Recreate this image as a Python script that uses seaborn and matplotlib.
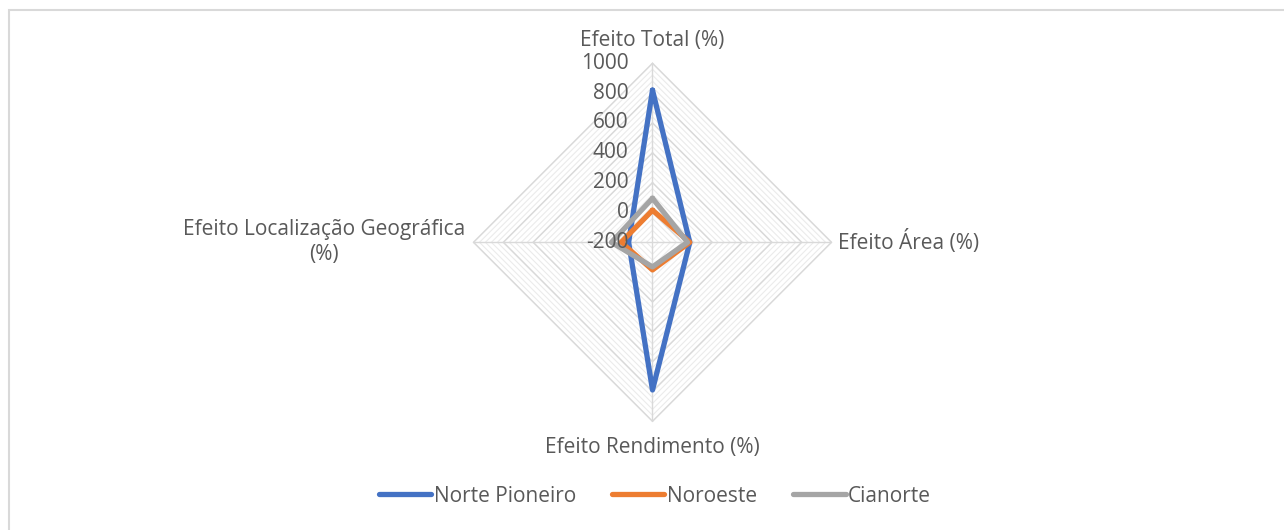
import numpy as np
import pandas as pd
import matplotlib.pyplot as plt
import seaborn as sns
from matplotlib.patches import Rectangle

categories = ["Efeito Total (%)", "Efeito Área (%)", "Efeito Rendimento (%)",
              "Efeito Localização Geográfica\n(%)"]
norte_pioneiro = [820, 50, 790, -40]
noroeste = [15, 50, -15, 10]
cianorte = [95, 35, -35, 75]
series_names = ["Norte Pioneiro", "Noroeste", "Cianorte"]
tick_values = [-200, 0, 200, 400, 600, 800, 1000]

colors = ["#4472C4", "#ED7D31", "#A5A5A5"]
text_col = "#595959"
fs = 15

sns.set_style("white")
plt.rcParams["font.family"] = ["Open Sans", "DejaVu Sans"]

rmin, rmax = -200, 1000
# clockwise from the top, like Excel
angles = np.deg2rad(90 - 90 * np.arange(len(categories)))


def to_xy(vals):
    r = np.asarray(vals, dtype=float) - rmin
    return r * np.cos(angles), r * np.sin(angles)


W, H = 1284, 530
fig = plt.figure(figsize=(W / 100, H / 100), dpi=100)
ax = fig.add_axes([0, 0, 1, 1])

# pixel layout: centre of the web and scale
cx, cy = 652.5, 242.3
s = 179 / (rmax - rmin)
ax.set_xlim(-cx / s, (W - cx) / s)
ax.set_ylim(-(H - cy) / s, cy / s)
ax.set_aspect("auto")
ax.axis("off")

# minor + major gridlines (diamonds)
for lev in np.arange(rmin + 40, rmax + 1, 40):
    gx, gy = to_xy([lev] * 4)
    gx = np.append(gx, gx[0])
    gy = np.append(gy, gy[0])
    major = (lev - rmin) % 200 == 0
    ax.plot(gx, gy, color="#D9D9D9" if major else "#EBEBEB",
            lw=1.1 if major else 0.8, zorder=1)
# spokes
for a in angles:
    ax.plot([0, (rmax - rmin) * np.cos(a)], [0, (rmax - rmin) * np.sin(a)],
            color="#D9D9D9", lw=1.0, zorder=1)

rows = []
for name, vals in zip(series_names, [norte_pioneiro, noroeste, cianorte]):
    x, y = to_xy(vals)
    for i in list(range(len(vals))) + [0]:
        rows.append({"series": name, "x": x[i], "y": y[i]})
df = pd.DataFrame(rows)

for name, c in zip(series_names, colors):
    d = df[df["series"] == name]
    sns.lineplot(data=d, x="x", y="y", sort=False, estimator=None, color=c,
                 lw=3.8, label=name, ax=ax, zorder=3, legend=False)
    ax.lines[-1].set_solid_joinstyle("round")
    ax.lines[-1].set_solid_capstyle("round")

# radial tick labels
for v in tick_values:
    ax.text(-24 / s, v - rmin, f"{v}", ha="right", va="center",
            fontsize=fs, color=text_col, zorder=4)

# category labels
R = rmax - rmin
ax.text(0, R + 23 / s, categories[0], ha="center", va="center",
        fontsize=fs, color=text_col)
ax.text(R + 7 / s, 0, categories[1], ha="left", va="center",
        fontsize=fs, color=text_col)
ax.text(0, -R - 26 / s, categories[2], ha="center", va="center",
        fontsize=fs, color=text_col)
ax.text(-R - 8 / s, 0, categories[3], ha="right", va="center",
        fontsize=fs, color=text_col, multialignment="center",
        linespacing=1.25)

leg = ax.legend(loc="center", bbox_to_anchor=(655 / W, 1 - 496 / H), ncol=3,
                frameon=False, fontsize=fs, handlelength=2.5,
                handletextpad=0.12, columnspacing=1.75,
                bbox_transform=fig.transFigure)
for t in leg.get_texts():
    t.set_color(text_col)
for l in leg.get_lines():
    l.set_linewidth(3.8)
    l.set_solid_capstyle("round")

# chart area border
fig.patches.append(Rectangle((9 / W, -0.1), 1.2, 1 - 10 / H + 0.1,
                             transform=fig.transFigure, fill=False,
                             edgecolor="#D9D9D9", lw=1.5))

fig.savefig("out.png", dpi=100)
